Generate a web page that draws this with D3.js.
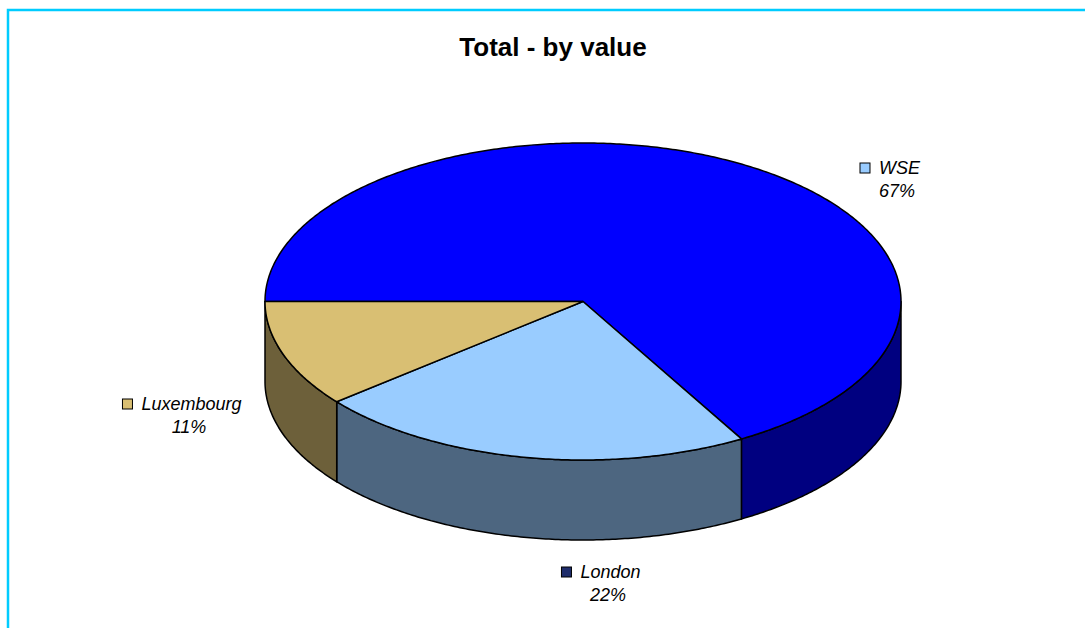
<!DOCTYPE html>
<html>
<head>
<meta charset="utf-8">
<script src="https://cdn.jsdelivr.net/npm/d3@7"></script>
<style>
  html, body { margin: 0; padding: 0; background: #fff; }
  svg { display: block; }
</style>
</head>
<body>
<svg id="chart" width="1085" height="628"></svg>
<script>
// ---- data ----
const categories = ["WSE", "London", "Luxembourg"];
const values = [66.7, 22.4, 10.9];
const pctLabels = ["67%", "22%", "11%"];
const topColors = ["#0000FF", "#99CCFF", "#D9BF73"];
const markerColors = ["#99CCFF", "#1F2D6B", "#D9BF73"];
const title = "Total - by value";

// ---- layout ----
const W = 1085, H = 628;
const cx = 583, cy = 301.5, rx = 318, ry = 158.5, depth = 80;
const labelPos = [
  { x: 890, y: 174 },   // WSE
  { x: 601, y: 578 },   // London
  { x: 182, y: 410 }    // Luxembourg
];

const svg = d3.select("#chart");

// border
svg.append("rect")
  .attr("x", 8).attr("y", 10)
  .attr("width", W + 20).attr("height", H + 20)
  .attr("fill", "#fff")
  .attr("stroke", "#00CCFF").attr("stroke-width", 2.5);

// title
svg.append("text")
  .attr("x", 553).attr("y", 56)
  .attr("text-anchor", "middle")
  .attr("font-family", "Liberation Sans, Arial, sans-serif")
  .attr("font-weight", "bold")
  .attr("font-size", 26)
  .text(title);

const pie = d3.pie().sort(null).startAngle(1.5 * Math.PI).endAngle(3.5 * Math.PI);
const arcs = pie(values);

const px = a => cx + rx * Math.sin(a);
const py = a => cy - ry * Math.cos(a);

function arcPoints(a0, a1, dy) {
  const n = Math.max(2, Math.ceil(Math.abs(a1 - a0) / 0.01));
  const pts = [];
  for (let i = 0; i <= n; i++) {
    const a = a0 + (a1 - a0) * i / n;
    pts.push([px(a), py(a) + dy]);
  }
  return pts;
}

function sideColor(c) {
  const col = d3.rgb(c);
  return d3.rgb(col.r * 0.5, col.g * 0.5, col.b * 0.5).formatHex();
}

const g = svg.append("g");

// side walls (front half only)
arcs.forEach((d, i) => {
  for (let k = 0; k <= 2; k++) {
    const lo = Math.max(d.startAngle, Math.PI / 2 + 2 * Math.PI * k);
    const hi = Math.min(d.endAngle, 1.5 * Math.PI + 2 * Math.PI * k);
    if (hi > lo) {
      const top = arcPoints(lo, hi, 0);
      const bot = arcPoints(hi, lo, depth);
      const pts = top.concat(bot);
      g.append("path")
        .attr("d", "M" + pts.map(p => p.join(",")).join("L") + "Z")
        .attr("fill", sideColor(topColors[i]))
        .attr("stroke", "#000").attr("stroke-width", 1.5)
        .attr("stroke-linejoin", "round");
    }
  }
});

// top faces
arcs.forEach((d, i) => {
  const pts = [[cx, cy]].concat(arcPoints(d.startAngle, d.endAngle, 0));
  g.append("path")
    .attr("d", "M" + pts.map(p => p.join(",")).join("L") + "Z")
    .attr("fill", topColors[i])
    .attr("stroke", "#000").attr("stroke-width", 1.5)
    .attr("stroke-linejoin", "round");
});

// labels
const font = "Liberation Sans, Arial, sans-serif";
arcs.forEach((d, i) => {
  const lp = labelPos[i];
  const lg = svg.append("g");
  const t = lg.append("text")
    .attr("font-family", font).attr("font-style", "italic").attr("font-size", 18)
    .attr("y", lp.y)
    .text(categories[i]);
  const tw = t.node().getComputedTextLength();
  const ms = 10, gap = 9;
  const total = ms + gap + tw;
  const x0 = lp.x - total / 2;
  lg.append("rect")
    .attr("x", x0).attr("y", lp.y - 11)
    .attr("width", ms).attr("height", ms)
    .attr("fill", markerColors[i]).attr("stroke", "#000").attr("stroke-width", 1);
  t.attr("x", x0 + ms + gap);
  lg.append("text")
    .attr("font-family", font).attr("font-style", "italic").attr("font-size", 18)
    .attr("x", lp.x + 7).attr("y", lp.y + 23)
    .attr("text-anchor", "middle")
    .text(pctLabels[i]);
});
</script>
</body>
</html>
